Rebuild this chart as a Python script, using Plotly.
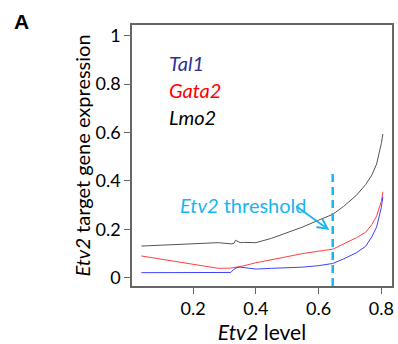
import plotly.graph_objects as go

etv2_level = [0.035, 0.1, 0.15, 0.2, 0.25, 0.28, 0.32, 0.33, 0.335, 0.34, 0.35, 0.36, 0.4,
              0.45, 0.5, 0.55, 0.6, 0.645, 0.68, 0.72, 0.75, 0.77, 0.785, 0.795, 0.8, 0.805]
lmo2 = [0.131, 0.135, 0.139, 0.142, 0.143, 0.145, 0.140, 0.142, 0.155, 0.152, 0.145, 0.146, 0.145,
        0.163, 0.185, 0.21, 0.238, 0.262, 0.295, 0.34, 0.385, 0.425, 0.47, 0.52, 0.555, 0.594]
gata2 = [0.09, 0.077, 0.066, 0.056, 0.044, 0.039, 0.040, 0.042, 0.045, 0.043, 0.046, 0.049, 0.062,
         0.075, 0.088, 0.1, 0.11, 0.118, 0.14, 0.165, 0.188, 0.22, 0.255, 0.29, 0.315, 0.355]
tal1 = [0.021, 0.021, 0.021, 0.021, 0.021, 0.021, 0.022, 0.035, 0.04, 0.042, 0.044, 0.042, 0.036,
        0.039, 0.041, 0.044, 0.05, 0.059, 0.078, 0.103, 0.13, 0.17, 0.21, 0.26, 0.29, 0.335]
threshold = 0.645

x_ticks = [0.2, 0.4, 0.6, 0.8]
y_ticks = [0, 0.2, 0.4, 0.6, 0.8, 1]
y_tick_text = ["0", "0.2", "0.4", "0.6", "0.8", "1"]

FONT = "Lato"
fig = go.Figure()
fig.add_trace(go.Scatter(x=etv2_level, y=lmo2, mode="lines", line=dict(color="#555555", width=1), name="Lmo2"))
fig.add_trace(go.Scatter(x=etv2_level, y=gata2, mode="lines", line=dict(color="#ff4040", width=1), name="Gata2"))
fig.add_trace(go.Scatter(x=etv2_level, y=tal1, mode="lines", line=dict(color="#4040ff", width=1), name="Tal1"))

fig.add_shape(type="line", x0=threshold, x1=threshold, y0=-0.034, y1=0.44, xref="x", yref="y",
              line=dict(color="#1ab4ef", width=2.5, dash="8px,5px"))

fig.add_annotation(x=0.153, y=0.3, xref="x", yref="y", xanchor="left", yanchor="middle",
                   text="<i>Etv2</i> threshold", showarrow=False,
                   font=dict(family=FONT, size=20, color="#1ab4ef"))
fig.add_annotation(x=0.634, y=0.197, ax=0.524, ay=0.30, xref="x", yref="y", axref="x", ayref="y",
                   text="", showarrow=True, arrowhead=5, arrowsize=1.1, arrowwidth=1.8, arrowcolor="#1ab4ef")

for name, yv, col in [("Tal1", 0.886, "#2e3192"), ("Gata2", 0.776, "#ff0000"), ("Lmo2", 0.665, "#000000")]:
    fig.add_annotation(x=0.116, y=yv, xref="x", yref="y", xanchor="left", yanchor="middle",
                       text="<i>%s</i>" % name, showarrow=False,
                       font=dict(family=FONT, size=20, color=col))

fig.add_annotation(x=(11 - 132) / 262, y=(286 - 22) / 261, xref="paper", yref="paper", xanchor="left", yanchor="middle",
                   text="<b>A</b>", showarrow=False, font=dict(family="Liberation Sans", size=21, color="black"))

axis_common = dict(showline=True, linecolor="#666666", linewidth=1.5, mirror=True, showgrid=False,
                   zeroline=False, ticks="outside", ticklen=6, tickcolor="#666666", tickwidth=1,
                   tickfont=dict(family=FONT, size=18, color="black"))
fig.update_xaxes(range=[0.005, 0.834], tickvals=x_ticks, ticktext=[str(t) for t in x_ticks],
                 title=dict(text="<i>Etv2</i> level", font=dict(family=FONT, size=21, color="black"), standoff=5),
                 **axis_common)
fig.update_yaxes(range=[-0.034, 1.044], tickvals=y_ticks, ticktext=y_tick_text,
                 title=dict(text="<i>Etv2</i> target gene expression", font=dict(family=FONT, size=20, color="black"), standoff=0),
                 **axis_common)
fig.update_layout(width=398, height=344, margin=dict(l=132, r=4, t=25, b=58),
                  plot_bgcolor="white", paper_bgcolor="white", showlegend=False)
fig.write_html("out.html")
